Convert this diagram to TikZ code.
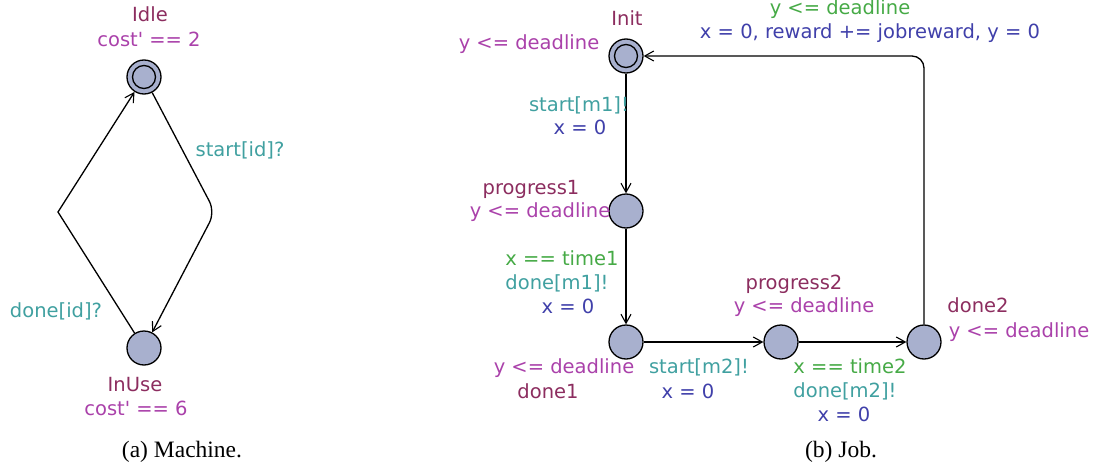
\documentclass[tikz,border=0pt]{standalone}
\usepackage{fontspec}
\setmainfont{Liberation Serif}
\newfontfamily\locfont{DejaVu Sans}
\usetikzlibrary{arrows.meta}

\definecolor{locfill}{RGB}{168,176,206}
\definecolor{namecol}{RGB}{140,45,95}
\definecolor{invcol}{RGB}{170,65,170}
\definecolor{guardcol}{RGB}{70,170,70}
\definecolor{synccol}{RGB}{64,160,160}
\definecolor{updcol}{RGB}{64,64,170}

\begin{document}
\begin{tikzpicture}[
    x=1pt, y=-1pt,
    loc/.style={circle, draw, line width=1.3pt, fill=locfill, minimum size=34pt, inner sep=0pt},
    trans/.style={line width=1.3pt, -{Straight Barb[length=9pt, width=10pt, line width=1.1pt]}},
    lbl/.style={font=\locfont\fontsize{19.5}{24}\selectfont, inner sep=0pt, text height=14pt, text depth=4pt, yshift=-1.5pt},
    locname/.style={lbl, text=namecol},
    inv/.style={lbl, text=invcol},
    guard/.style={lbl, text=guardcol},
    sync/.style={lbl, text=synccol},
    upd/.style={lbl, text=updcol},
    capt/.style={font=\fontsize{23.5}{28}\selectfont, inner sep=0pt, yshift=-1.5pt},
  ]
  \useasboundingbox (0,0) rectangle (1093,463);

  % (a) machine
  \node[loc] (idle) at (144,77) {};
  \draw[line width=1.3pt] (idle.center) circle[radius=11.5pt];
  \node[loc] (inuse) at (144,348) {};
  \coordinate (mleft) at (58,212);
  \coordinate (mright) at (215,212);
  \draw[trans, rounded corners=12pt] (idle) -- (mright) -- (inuse);
  \draw[trans] (inuse) -- (mleft) -- (idle);

  \node[locname] (idlename) at (150,15) {Idle};
  \node[inv] (idleinv) at (149,40) {cost' == 2};
  \node[locname] (inusename) at (135,385) {InUse};
  \node[inv] (inuseinv) at (136,409) {cost' == 6};
  \node[sync] (startid) at (240,150) {start[id]?};
  \node[sync] (doneid) at (56,311) {done[id]?};
  \node[capt] (capa) at (182,450) {(a) Machine.};

  % (b) job
  \node[loc] (init) at (626,56) {};
  \draw[line width=1.3pt] (init.center) circle[radius=11.5pt];
  \node[loc] (progress1) at (626,211) {};
  \node[loc] (done1) at (626,342) {};
  \node[loc] (progress2) at (781,342) {};
  \node[loc] (done2) at (924,342) {};
  \draw[trans] (init) -- (progress1);
  \draw[trans] (progress1) -- (done1);
  \draw[trans] (done1) -- (progress2);
  \draw[trans] (progress2) -- (done2);
  \draw[trans, rounded corners=12pt] (done2) -- (done2 |- init) -- (init);

  \node[locname] (initname) at (627,19) {Init};
  \node[inv] (initinv) at (529,43) {y <= deadline};
  \node[sync] (startmone) at (579,105) {start[m1]!};
  \node[upd] (updone) at (580,128) {x = 0};
  \node[locname] (ponename) at (531,188) {progress1};
  \node[inv] (poneinv) at (540,211) {y <= deadline};
  \node[guard] (timeone) at (562,259) {x == time1};
  \node[sync] (donemone) at (557,283) {done[m1]!};
  \node[upd] (updtwo) at (568,307) {x = 0};
  \node[inv] (doneoneinv) at (564,367) {y <= deadline};
  \node[locname] (doneonename) at (548,392) {done1};
  \node[sync] (startmtwo) at (699,367) {start[m2]!};
  \node[upd] (updthree) at (688,392) {x = 0};
  \node[locname] (ptwoname) at (794,283) {progress2};
  \node[inv] (ptwoinv) at (804,306) {y <= deadline};
  \node[locname] (donetwoname) at (978,306) {done2};
  \node[inv] (donetwoinv) at (1019,331) {y <= deadline};
  \node[guard] (timetwo) at (850,367) {x == time2};
  \node[sync] (donemtwo) at (845,391) {done[m2]!};
  \node[upd] (updfour) at (844,415) {x = 0};
  \node[guard] (backguard) at (840,8) {y <= deadline};
  \node[upd] (backupd) at (870,32) {x = 0, reward += jobreward, y = 0};
  \node[capt] (capb) at (841,450) {(b) Job.};
\end{tikzpicture}
\end{document}
